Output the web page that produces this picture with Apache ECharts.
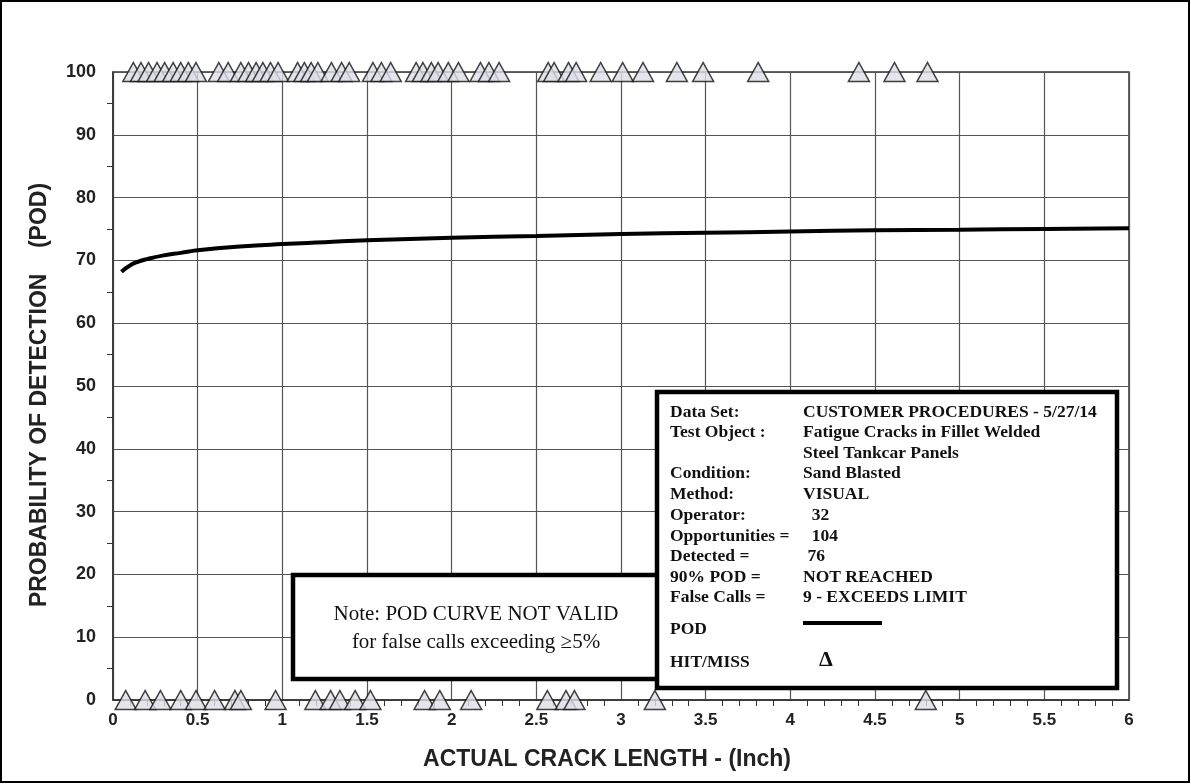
<!DOCTYPE html>
<html>
<head>
<meta charset="utf-8">
<script src="https://cdn.jsdelivr.net/npm/echarts@6/dist/echarts.min.js"></script>
<style>
html,body{margin:0;padding:0;background:#fff;}
#chart{width:1191px;height:784px;}
</style>
</head>
<body>
<div id="chart"></div>
<script>
// POD curve (crack length in inches, POD %)
const curveX = [0.05,0.1,0.15,0.2,0.3,0.4,0.5,0.75,1.0,1.25,1.5,2.0,2.5,3.0,3.5,4.0,4.5,5.0,5.5,6.0];
const curveY = [68.2,69.2,69.8,70.2,70.8,71.2,71.6,72.2,72.6,72.9,73.2,73.6,73.9,74.2,74.4,74.6,74.8,74.9,75.0,75.1];
// Hit (detected, POD=100) crack lengths
const hitX = [0.12,0.165,0.21,0.26,0.305,0.355,0.40,0.445,0.49,
  0.625,0.68,0.755,0.80,0.845,0.885,0.93,0.975,1.09,1.13,1.17,1.21,1.29,1.35,1.395,1.535,1.585,1.64,
  1.79,1.83,1.88,1.92,1.98,2.04,2.17,2.22,2.28,
  2.57,2.605,2.69,2.735,2.88,3.01,3.13,3.33,3.485,3.81,4.405,4.615,4.81];
// Miss (not detected, POD=0) crack lengths
const missX = [0.075,0.19,0.28,0.40,0.49,0.60,0.72,0.755,0.96,1.195,1.285,1.34,1.43,1.52,1.84,1.93,2.115,2.565,2.675,2.725,3.2,4.8];
const hitY = 100, missY = 0;
// Axis titles
const xTitle = 'ACTUAL CRACK LENGTH - (Inch)';
const yTitle = 'PROBABILITY OF DETECTION    (POD)';
// Info box text
const infoLabels = ["Data Set:","Test Object :","","Condition:","Method:","Operator:","Opportunities =","Detected =","90% POD =","False Calls ="];
const infoValues = ["CUSTOMER PROCEDURES - 5/27/14","Fatigue Cracks in Fillet Welded","Steel Tankcar Panels","Sand Blasted","VISUAL","  32","  104"," 76","NOT REACHED","9 - EXCEEDS LIMIT"];
const noteLines = ["Note: POD CURVE NOT VALID","for false calls exceeding \u22655%"];

const chart = echarts.init(document.getElementById('chart'));
const SERIF = '"Liberation Serif","Times New Roman",serif';
const SANS = '"Liberation Sans",Arial,sans-serif';
const rowY = [412,432,453,473,494,515,536,556,577,597];
const LF = 'bold 17.5px '+SERIF;
const graphics = [
  {type:'rect', shape:{x:1,y:1,width:1188,height:781}, style:{fill:'none',stroke:'#000',lineWidth:2}, z:1},
  {type:'text', x:607, y:760, style:{text:xTitle, font:'bold 23px '+SANS, fill:'#222', textAlign:'center', textVerticalAlign:'middle'}, z:50},
  {type:'text', x:40, y:395, rotation:Math.PI/2, style:{text:yTitle, font:'bold 23px '+SANS, fill:'#222', textAlign:'center', textVerticalAlign:'middle'}, z:50},
  {type:'rect', shape:{x:293,y:575,width:365,height:104}, style:{fill:'#fff',stroke:'#000',lineWidth:4.5}, z:100},
  {type:'text', x:476, y:614, style:{text:noteLines[0], font:'21px '+SERIF, fill:'#111', textAlign:'center', textVerticalAlign:'middle'}, z:101},
  {type:'text', x:476, y:642, style:{text:noteLines[1], font:'21px '+SERIF, fill:'#111', textAlign:'center', textVerticalAlign:'middle'}, z:101},
  {type:'rect', shape:{x:657,y:392,width:460,height:296}, style:{fill:'#fff',stroke:'#000',lineWidth:4.5}, z:100},
  {type:'text', x:670, y:629, style:{text:'POD', font:LF, fill:'#111', textVerticalAlign:'middle'}, z:101},
  {type:'text', x:670, y:662, style:{text:'HIT/MISS', font:LF, fill:'#111', textVerticalAlign:'middle'}, z:101},
  {type:'line', shape:{x1:803,y1:623,x2:882,y2:623}, style:{stroke:'#000',lineWidth:4}, z:101},
  {type:'text', x:826, y:660, style:{text:'\u0394', font:'bold 22px '+SERIF, fill:'#111', textAlign:'center', textVerticalAlign:'middle'}, z:101}
];
infoLabels.forEach((t,i)=>{
  if(t) graphics.push({type:'text', x:670, y:rowY[i], style:{text:t, font:LF, fill:'#111', textVerticalAlign:'middle'}, z:101});
  graphics.push({type:'text', x:803, y:rowY[i], style:{text:infoValues[i], font:LF, fill:'#111', textVerticalAlign:'middle'}, z:101});
});

const triStyle = {color:'#dddde9', borderColor:'#111', borderWidth:1.5};
chart.setOption({
  animation:false,
  backgroundColor:'#fff',
  grid:{left:113, top:72, right:62, bottom:84, show:true, borderColor:'#333', borderWidth:1.5, backgroundColor:'transparent'},
  xAxis:{
    type:'value', min:0, max:6, interval:0.5,
    axisLine:{show:true, lineStyle:{color:'#333', width:1.5}},
    axisTick:{show:false},
    minorTick:{show:true, splitNumber:5, length:6, lineStyle:{color:'#333'}},
    axisLabel:{fontFamily:SANS, fontWeight:'bold', fontSize:17, color:'#222', margin:12},
    splitLine:{show:true, lineStyle:{color:'#555', width:1.2}}
  },
  yAxis:{
    type:'value', min:0, max:100, interval:10,
    axisLine:{show:true, lineStyle:{color:'#333', width:1.5}},
    axisTick:{show:false},
    minorTick:{show:true, splitNumber:2, length:6, lineStyle:{color:'#333'}},
    axisLabel:{fontFamily:SANS, fontWeight:'bold', fontSize:18, color:'#222', margin:17},
    splitLine:{show:true, lineStyle:{color:'#555', width:1.2}}
  },
  series:[
    {type:'line', data:curveX.map((x,i)=>[x,curveY[i]]), smooth:true, showSymbol:false, lineStyle:{color:'#000', width:4}, z:5},
    {type:'scatter', data:hitX.map(x=>[x,hitY]), symbol:'triangle', symbolSize:[21,19], itemStyle:triStyle, clip:false, z:6},
    {type:'scatter', data:missX.map(x=>[x,missY]), symbol:'triangle', symbolSize:[21,19], itemStyle:triStyle, clip:false, z:6}
  ],
  graphic:graphics
});
</script>
</body>
</html>
